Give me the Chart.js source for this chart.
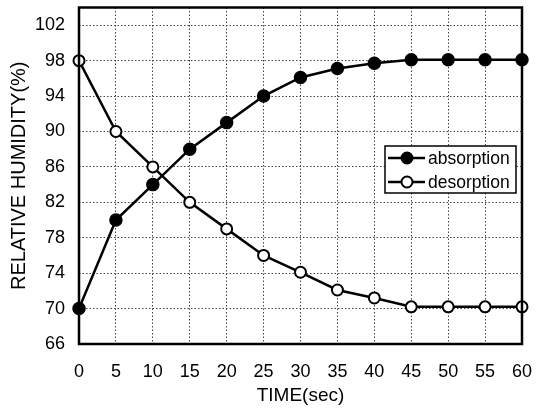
<!DOCTYPE html>
<html>
<head>
<meta charset="utf-8">
<script src="https://cdn.jsdelivr.net/npm/chart.js@4"></script>
<style>
  html, body { margin: 0; padding: 0; background: #fff; }
  #wrap { width: 536px; height: 411px; position: relative; }
</style>
</head>
<body>
<div id="wrap"><canvas id="humidityChart"></canvas></div>
<script>
const times = [0, 5, 10, 15, 20, 25, 30, 35, 40, 45, 50, 55, 60];
const absorption = [70, 80, 84, 88, 91, 94, 96.1, 97.1, 97.7, 98.1, 98.1, 98.1, 98.1];
const desorption = [98, 90, 86, 82, 79, 76, 74.1, 72.1, 71.2, 70.2, 70.2, 70.2, 70.2];
const seriesNames = ['absorption', 'desorption'];
const yTicks = [66, 70, 74, 78, 82, 86, 90, 94, 98, 102];

const FONT = "'Liberation Sans', Arial, sans-serif";

// draws the black frame and the boxed legend inside the plot
const framePlugin = {
    id: 'frame',
    afterDraw(chart) {
        const { ctx, chartArea: a } = chart;
        ctx.save();
        ctx.strokeStyle = '#000';
        ctx.lineWidth = 2.5;
        ctx.strokeRect(a.left, a.top, a.right - a.left, a.bottom - a.top);

        const bx = 385, by = 146, bw = 131, bh = 47;
        ctx.fillStyle = '#fff';
        ctx.fillRect(bx, by, bw, bh);
        ctx.lineWidth = 1.5;
        ctx.strokeRect(bx, by, bw, bh);
        chart.data.datasets.forEach((ds, i) => {
            const y = by + 12 + i * 24;
            ctx.beginPath();
            ctx.lineWidth = 2.5;
            ctx.moveTo(bx + 3, y);
            ctx.lineTo(bx + 40, y);
            ctx.stroke();
            ctx.beginPath();
            ctx.arc(bx + 22, y, 5.5, 0, Math.PI * 2);
            ctx.fillStyle = ds.pointBackgroundColor;
            ctx.fill();
            ctx.lineWidth = 2;
            ctx.stroke();
            ctx.fillStyle = '#000';
            ctx.font = '17.5px ' + FONT;
            ctx.textBaseline = 'middle';
            ctx.fillText(ds.label, bx + 43, y + 1);
        });
        ctx.restore();
    }
};

const ctx = document.getElementById('humidityChart');
new Chart(ctx, {
    type: 'line',
    data: {
        datasets: [
            {
                label: seriesNames[0],
                data: times.map((t, i) => ({ x: t, y: absorption[i] })),
                borderColor: '#000',
                borderWidth: 2.5,
                pointRadius: 6,
                pointBackgroundColor: '#000',
                pointBorderColor: '#000',
                pointBorderWidth: 1.5,
                clip: false
            },
            {
                label: seriesNames[1],
                data: times.map((t, i) => ({ x: t, y: desorption[i] })),
                borderColor: '#000',
                borderWidth: 2.5,
                pointRadius: 5.5,
                pointBackgroundColor: '#fff',
                pointBorderColor: '#000',
                pointBorderWidth: 2,
                clip: false
            }
        ]
    },
    options: {
        responsive: true,
        maintainAspectRatio: false,
        animation: false,
        layout: { padding: { top: 7, right: 14, left: 0, bottom: 0 } },
        plugins: {
            legend: { display: false },
            tooltip: { enabled: false }
        },
        scales: {
            x: {
                type: 'linear',
                min: 0,
                max: 60,
                ticks: { stepSize: 5, color: '#000', font: { family: FONT, size: 18 }, padding: 17 },
                grid: { color: '#444', lineWidth: 1, drawTicks: false },
                border: { display: false, dash: [1.5, 2] },
                title: { display: true, text: 'TIME(sec)', color: '#000', font: { family: FONT, size: 19 }, padding: { top: 3 } },
                afterFit(scale) {
                    scale.height = 67;
                    scale.paddingLeft = 0;
                    scale.paddingRight = 0;
                }
            },
            y: {
                min: 66,
                max: 104,
                ticks: { color: '#000', font: { family: FONT, size: 18 }, padding: 14 },
                grid: { color: '#444', lineWidth: 1, drawTicks: false },
                border: { display: false, dash: [1.5, 2] },
                title: { display: true, text: 'RELATIVE HUMIDITY(%)', color: '#000', font: { family: FONT, size: 20 }, padding: { top: 7, bottom: 0 } },
                afterBuildTicks(scale) { scale.ticks = yTicks.map(v => ({ value: v })); },
                afterFit(scale) {
                    scale.width = 79;
                    scale.paddingTop = 0;
                    scale.paddingBottom = 0;
                }
            }
        }
    },
    plugins: [framePlugin]
});
</script>
</body>
</html>
